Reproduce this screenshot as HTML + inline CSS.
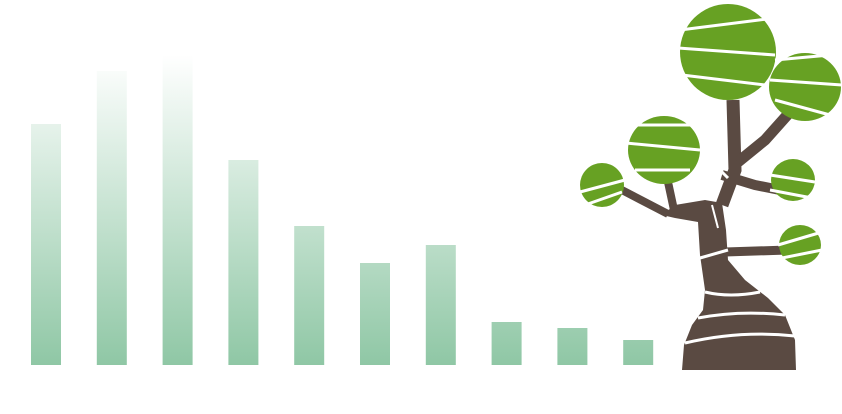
<!DOCTYPE html>
<html><head><meta charset="utf-8"><style>
html,body{margin:0;padding:0;background:#fff;}
svg{display:block;}
</style></head><body>
<svg id="chart" width="842" height="414" viewBox="0 0 842 414" xmlns="http://www.w3.org/2000/svg">
<defs>
<linearGradient id="barGrad" gradientUnits="userSpaceOnUse" x1="0" y1="55" x2="0" y2="365">
<stop offset="0" stop-color="#8fc7a5" stop-opacity="0"/>
<stop offset="1" stop-color="#8fc7a5" stop-opacity="1"/>
</linearGradient>
</defs>
<g id="bars"></g>
<g id="tree">
  <g fill="none" stroke="#5a4a42" stroke-linecap="butt">
    <path d="M733 100 L735 170 L722 205" stroke-width="13"/>
    <path d="M790 112 L765 140 L738 162" stroke-width="11"/>
    <path d="M722 175 L755 185 L790 192" stroke-width="10"/>
    <path d="M668 182 L674 210" stroke-width="8"/>
    <path d="M618 188 L668 214" stroke-width="8"/>
    <path d="M725 252 L788 250" stroke-width="9"/>
  </g>
  <path fill="#5a4a42" d="M682 370 L684 345 L692 325 L703 310 L705 290 L700 255 L698 222 L675 218 L662 215 L675 205 L705 200 L722 203 L726 230 L728 260 L745 280 L768 298 L785 315 L795 340 L796 370 Z"/>
  <g fill="none" stroke="#fff" stroke-width="3">
    <path d="M685 343 Q740 330 795 336"/>
    <path d="M698 318 Q740 310 785 315"/>
    <path d="M705 292 Q730 298 760 292"/>
    <path d="M700 258 L728 250"/>
    <path d="M718 228 L712 205" stroke-width="2"/>
    <path d="M728 178 L722 172"/>
  </g>
  <g fill="#67a123">
    <ellipse cx="728" cy="52" rx="48" ry="48"/>
    <ellipse cx="805" cy="87" rx="36" ry="34"/>
    <ellipse cx="664" cy="150" rx="36" ry="34"/>
    <ellipse cx="602" cy="185" rx="22" ry="22"/>
    <ellipse cx="793" cy="180" rx="22" ry="21"/>
    <ellipse cx="800" cy="245" rx="21" ry="20"/>
  </g>
  <g fill="none" stroke="#fff" stroke-width="3">
    <path d="M680 30 L775 18"/><path d="M678 48 L775 55"/><path d="M682 75 L765 85"/>
    <path d="M770 80 L842 85"/><path d="M775 60 L830 55"/><path d="M775 100 L830 115"/>
    <path d="M626 143 L700 150"/><path d="M630 125 L695 125"/><path d="M635 170 L690 170"/>
    <path d="M580 192 L625 180"/><path d="M585 205 L622 192"/>
    <path d="M770 175 L815 182"/><path d="M770 190 L812 198"/>
    <path d="M778 245 L822 232"/><path d="M782 258 L822 250"/>
  </g>
</g>
</svg>
<script>
var categories = ["A","B","C","D","E","F","G","H","I","J"];
var values = [241, 294, 310, 205, 139, 102, 120, 43, 37, 25];
var baseY = 365, topY = 55, maxV = 310;
var x0 = 31, step = 65.8, bw = 30;
function xScale(i){ return x0 + i*step; }
function yScale(v){ return baseY - v/maxV*(baseY-topY); }
var g = document.getElementById('bars');
var ns = 'http://www.w3.org/2000/svg';
for (var i = 0; i < values.length; i++){
  var r = document.createElementNS(ns,'rect');
  r.setAttribute('x', xScale(i));
  r.setAttribute('y', yScale(values[i]));
  r.setAttribute('width', bw);
  r.setAttribute('height', baseY - yScale(values[i]));
  r.setAttribute('fill', 'url(#barGrad)');
  
  
  g.appendChild(r);
}
</script>
</body></html>
